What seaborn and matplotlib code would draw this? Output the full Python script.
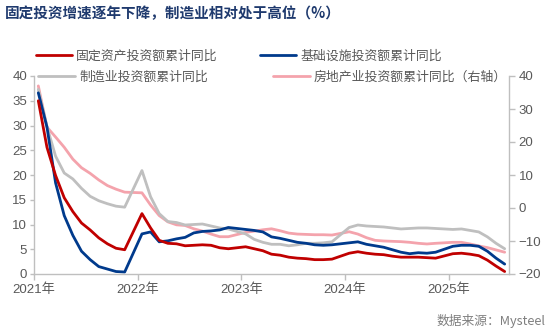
import matplotlib
matplotlib.use("Agg")
import matplotlib.pyplot as plt
import seaborn as sns
import pandas as pd
from matplotlib.lines import Line2D

# ---------------- data ----------------
months = [f"{y}-{m:02d}" for y in range(2021, 2026) for m in range(2, 13)][:51]
fai = [35.0, 25.6, 19.9, 15.4, 12.6, 10.3, 8.9, 7.3, 6.1, 5.2, 4.9,
       12.2, 9.3, 6.8, 6.2, 6.1, 5.7, 5.8, 5.9, 5.8, 5.3, 5.1,
       5.5, 5.1, 4.7, 4.0, 3.8, 3.4, 3.2, 3.1, 2.9, 2.9, 3.0,
       4.2, 4.5, 4.2, 4.0, 3.9, 3.6, 3.4, 3.4, 3.4, 3.3, 3.2,
       4.1, 4.2, 4.0, 3.7, 2.8, 1.6, 0.5]
infra = [36.6, 29.7, 18.4, 11.8, 7.8, 4.6, 2.9, 1.5, 1.0, 0.5, 0.4,
         8.1, 8.5, 6.5, 6.7, 7.1, 7.4, 8.3, 8.6, 8.7, 8.9, 9.4,
         9.0, 8.8, 8.5, 7.5, 7.2, 6.8, 6.4, 6.2, 5.9, 5.8, 5.9,
         6.3, 6.5, 6.0, 5.7, 5.4, 4.9, 4.4, 4.1, 4.3, 4.2, 4.4,
         5.6, 5.8, 5.8, 5.6, 4.6, 3.2, 2.0]
mfg = [37.3, 29.8, 23.8, 20.4, 19.2, 17.3, 15.7, 14.8, 14.2, 13.7, 13.5,
       20.9, 15.6, 12.2, 10.6, 10.4, 9.9, 10.0, 10.1, 9.7, 9.3, 9.1,
       8.1, 7.0, 6.4, 6.0, 6.0, 5.7, 5.9, 6.2, 6.2, 6.3, 6.5,
       9.4, 9.9, 9.7, 9.6, 9.5, 9.3, 9.1, 9.2, 9.3, 9.3, 9.2,
       9.0, 9.1, 8.8, 8.5, 7.5, 6.2, 5.1]
realestate = [37.0, 24.5, 21.5, 18.4, 14.8, 12.2, 10.5, 8.5, 6.8, 5.7, 4.8,
              4.6, 0.9, -2.3, -4.2, -5.1, -5.3, -6.3, -7.0, -7.9, -8.7, -8.7,
              -7.4, -7.0, -6.6, -6.3, -6.9, -7.6, -7.9, -8.0, -8.1, -8.1, -8.2,
              -7.2, -7.9, -9.0, -9.8, -10.0, -10.1, -10.2, -10.4, -10.7, -10.9, -10.7,
              -10.4, -10.4, -10.9, -11.5, -12.0, -12.7, -13.4]

series_names = ["固定资产投资额累计同比", "基础设施投资额累计同比",
                "制造业投资额累计同比", "房地产业投资额累计同比（右轴）"]
colors = ["#C00000", "#003A8C", "#BFBFBF", "#F4A3AC"]
year_labels = ["2021年", "2022年", "2023年", "2024年", "2025年"]

# ---------------- frame ----------------
def month_pos(s):
    y, m = s.split("-")
    return (int(y) - 2021) * 12 + (int(m) - 2)

df = pd.DataFrame({"month": months, "fai": fai, "infra": infra,
                   "mfg": mfg, "re": realestate})
df["x"] = df["month"].map(month_pos)

sns.set_theme(style="white")
plt.rcParams["font.family"] = ["Liberation Sans", "Noto Sans CJK SC", "DejaVu Sans"]

W, H = 550, 335
fig = plt.figure(figsize=(5.5, 3.35), dpi=100)
ax = fig.add_axes([34 / W, 1 - 274 / H, (509 - 34) / W, (274 - 76) / H])
ax2 = ax.twinx()

lw = 2.0
sns.lineplot(data=df, x="x", y="mfg", ax=ax, color=colors[2], lw=lw, legend=False)
sns.lineplot(data=df, x="x", y="re", ax=ax2, color=colors[3], lw=lw, legend=False)
sns.lineplot(data=df, x="x", y="infra", ax=ax, color=colors[1], lw=lw, legend=False)
sns.lineplot(data=df, x="x", y="fai", ax=ax, color=colors[0], lw=lw, legend=False)
ax.set_zorder(ax2.get_zorder() + 1)
ax.patch.set_visible(False)

ax.set_xlim(-0.5, 54.5)
ax.set_ylim(0, 40)
ax2.set_ylim(-20, 40)
ax.set_yticks(range(0, 41, 5))
ax2.set_yticks(range(-20, 41, 10))
ax.set_xticks([-0.5 + 12 * i for i in range(5)])
ax.set_xticklabels(year_labels)
ax.set_xlabel("")
ax.set_ylabel("")
ax2.set_ylabel("")

grey = "#BFBFBF"
tc = "#595959"
for a in (ax, ax2):
    for s in a.spines.values():
        s.set_color(grey)
        s.set_linewidth(1.0)
    a.spines["top"].set_visible(False)
    a.grid(False)
ax.spines["right"].set_visible(False)
ax2.spines["left"].set_visible(False)
ax2.spines["bottom"].set_visible(False)

ax.tick_params(axis="y", left=True, length=3, width=1, color=grey,
               labelsize=9.5, labelcolor=tc, pad=2)
ax.tick_params(axis="x", bottom=True, length=4, width=1, color=grey,
               labelsize=9.5, labelcolor=tc, pad=3)
ax2.tick_params(axis="y", right=True, length=4, width=1, color=grey,
                labelsize=9.5, labelcolor=tc, pad=3)

# ---------------- title / legend / source ----------------
fig.text(5 / W, 1 - 13 / H, "固定投资增速逐年下降，制造业相对处于高位（%）",
         fontsize=10.5, fontweight="bold", color="#1F3A6E", va="center",
         family=["Noto Sans CJK SC"])

lfont = {"family": ["Noto Sans CJK SC"], "size": 9.3}
h = [Line2D([], [], color=c, lw=lw) for c in colors]
leg1 = fig.legend(h[:2], series_names[:2], loc="center left",
                  bbox_to_anchor=(36 / W, 1 - 56 / H), ncol=2, frameon=False,
                  prop=lfont, handlelength=2.8, handletextpad=0.3,
                  columnspacing=3.3, borderpad=0, borderaxespad=0)
for t in leg1.get_texts():
    t.set_color(tc)
leg2 = fig.legend(h[2:], series_names[2:], loc="center left",
                  bbox_to_anchor=(38 / W, 1 - 77 / H), ncol=2, frameon=False,
                  prop=lfont, handlelength=2.9, handletextpad=0.3,
                  columnspacing=5.0, borderpad=0, borderaxespad=0)
for t in leg2.get_texts():
    t.set_color(tc)

fig.text(546 / W, 1 - 321 / H, "数据来源：Mysteel", ha="right", va="center",
         fontsize=9.2, color="#7F7F7F", family=["Noto Sans CJK SC"])

fig.savefig("out.png", dpi=100, facecolor="white")
